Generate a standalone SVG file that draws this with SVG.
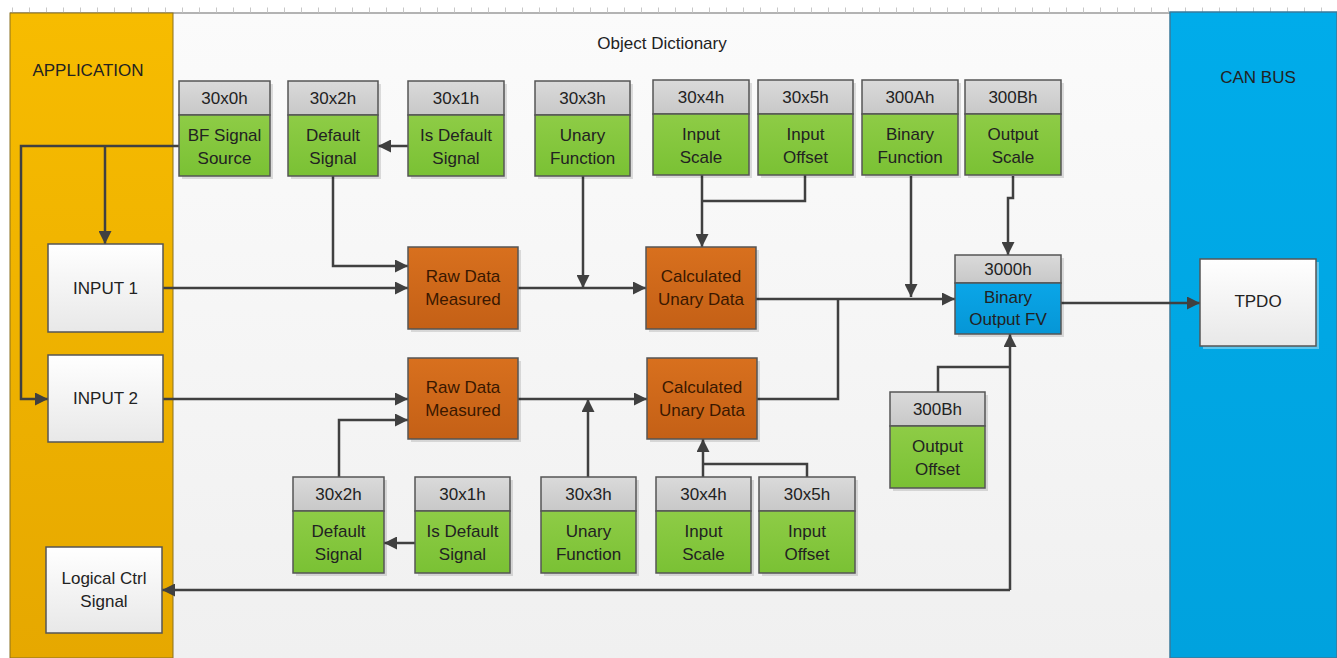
<svg xmlns="http://www.w3.org/2000/svg" width="1337" height="658" viewBox="0 0 1337 658">
<defs>
<linearGradient id="appG" x1="0" y1="0" x2="0" y2="1"><stop offset="0" stop-color="#F7BC00"/><stop offset="1" stop-color="#E6A800"/></linearGradient>
<linearGradient id="canG" x1="0" y1="0" x2="0" y2="1"><stop offset="0" stop-color="#00ACEA"/><stop offset="1" stop-color="#00A2DE"/></linearGradient>
<linearGradient id="bgG" x1="0" y1="0" x2="0" y2="1"><stop offset="0" stop-color="#FBFBFB"/><stop offset="1" stop-color="#F0F0F0"/></linearGradient>
<linearGradient id="hdG" x1="0" y1="0" x2="0" y2="1"><stop offset="0" stop-color="#DADADA"/><stop offset="1" stop-color="#C8C8C8"/></linearGradient>
<linearGradient id="grG" x1="0" y1="0" x2="0" y2="1"><stop offset="0" stop-color="#8ECC46"/><stop offset="1" stop-color="#7AC134"/></linearGradient>
<linearGradient id="orG" x1="0" y1="0" x2="0" y2="1"><stop offset="0" stop-color="#D8701E"/><stop offset="1" stop-color="#C46016"/></linearGradient>
<linearGradient id="whG" x1="0" y1="0" x2="0" y2="1"><stop offset="0" stop-color="#FFFFFF"/><stop offset="1" stop-color="#E8E8E8"/></linearGradient>
<linearGradient id="blG" x1="0" y1="0" x2="0" y2="1"><stop offset="0" stop-color="#0AA6E8"/><stop offset="1" stop-color="#0696D6"/></linearGradient>
<marker id="ar" viewBox="0 0 10 10" refX="10" refY="5" markerWidth="13" markerHeight="13" markerUnits="userSpaceOnUse" orient="auto"><path d="M0,0 L10,5 L0,10 z" fill="#404040"/></marker>
</defs>
<style>
text{font-family:"Liberation Sans",Arial,sans-serif;font-size:17px;fill:#222;text-anchor:middle}
.ot{fill:#3A1800}
.hd{fill:url(#hdG);stroke:#555;stroke-width:1.5}
.gr{fill:url(#grG);stroke:#555;stroke-width:1.5}
.or{fill:url(#orG);stroke:#555;stroke-width:1.5}
.wh{fill:url(#whG);stroke:#555;stroke-width:1.5}
.bl{fill:url(#blG);stroke:#555;stroke-width:1.5}
.sh{fill:#000;opacity:0.12}
.c{fill:none;stroke:#404040;stroke-width:2.5}
.a{marker-end:url(#ar)}
</style>
<rect x="0" y="0" width="1337" height="658" fill="#FFFFFF"/>
<!-- ruler -->
<line x1="10" y1="13" x2="1337" y2="13" stroke="#9A9A9A" stroke-width="1.5"/>
<line x1="12" y1="10" x2="1337" y2="10" stroke="#C8C8C8" stroke-width="5" stroke-dasharray="1 16"/>
<!-- panels -->
<rect x="173" y="14" width="997" height="644" fill="url(#bgG)"/>
<g id="application">
<rect x="10" y="13" width="163" height="645" fill="url(#appG)" stroke="#8A7020" stroke-width="1"/>
<text x="88" y="76">APPLICATION</text>
</g>
<g id="can-bus">
<rect x="1170" y="12" width="167" height="646" fill="url(#canG)" stroke="#3A7A9A" stroke-width="1.5"/>
<text x="1258" y="83">CAN BUS</text>
</g>
<text x="662" y="49">Object Dictionary</text>

<!-- connectors -->
<g id="connectors">
<path class="c a" d="M179,146 H21 V399 H48"/>
<path class="c a" d="M105,146 V244"/>
<path class="c a" d="M408,146 H378"/>
<path class="c a" d="M333,176 V266 H408"/>
<path class="c a" d="M163,288 H408"/>
<path class="c a" d="M163,399 H408"/>
<path class="c a" d="M339,477 V420 H408"/>
<path class="c a" d="M415,543 H384"/>
<path class="c a" d="M518,288 H646"/>
<path class="c a" d="M583,176 V288"/>
<path class="c" d="M805,175 V201 H702"/>
<path class="c a" d="M702,175 V247"/>
<path class="c a" d="M518,399 H647"/>
<path class="c a" d="M588,477 V399"/>
<path class="c" d="M807,477 V464 H703"/>
<path class="c a" d="M703,477 V439"/>
<path class="c a" d="M756,299 H955"/>
<path class="c" d="M757,399 H838 V299"/>
<path class="c a" d="M911,176 V297"/>
<path class="c a" d="M1013,176 V198 H1008 V255"/>
<path class="c a" d="M1061,303 H1200"/>
<path class="c" d="M938,392 V367 H1010"/>
<path class="c a" d="M1010,590 V334"/>
<path class="c a" d="M1010,590 H162"/>
</g>

<!-- top dictionary nodes -->
<g id="n-30x0h-top"><rect class="sh" x="182" y="84" width="91" height="95"/><rect class="hd" x="179" y="81" width="91" height="34"/><rect class="gr" x="179" y="115" width="91" height="61"/><text x="224.5" y="104">30x0h</text><text x="224.5" y="141">BF Signal</text><text x="224.5" y="164">Source</text></g>
<g id="n-30x2h-top"><rect class="sh" x="291" y="84" width="90" height="95"/><rect class="hd" x="288" y="81" width="90" height="34"/><rect class="gr" x="288" y="115" width="90" height="61"/><text x="333" y="104">30x2h</text><text x="333" y="141">Default</text><text x="333" y="164">Signal</text></g>
<g id="n-30x1h-top"><rect class="sh" x="411" y="84" width="96" height="95"/><rect class="hd" x="408" y="81" width="96" height="34"/><rect class="gr" x="408" y="115" width="96" height="61"/><text x="456" y="104">30x1h</text><text x="456" y="141">Is Default</text><text x="456" y="164">Signal</text></g>
<g id="n-30x3h-top"><rect class="sh" x="538" y="84" width="95" height="95"/><rect class="hd" x="535" y="81" width="95" height="34"/><rect class="gr" x="535" y="115" width="95" height="61"/><text x="582.5" y="104">30x3h</text><text x="582.5" y="141">Unary</text><text x="582.5" y="164">Function</text></g>
<g id="n-30x4h-top"><rect class="sh" x="656" y="83" width="96" height="95"/><rect class="hd" x="653" y="80" width="96" height="34"/><rect class="gr" x="653" y="114" width="96" height="61"/><text x="701" y="103">30x4h</text><text x="701" y="140">Input</text><text x="701" y="163">Scale</text></g>
<g id="n-30x5h-top"><rect class="sh" x="761" y="83" width="95" height="95"/><rect class="hd" x="758" y="80" width="95" height="34"/><rect class="gr" x="758" y="114" width="95" height="61"/><text x="805.5" y="103">30x5h</text><text x="805.5" y="140">Input</text><text x="805.5" y="163">Offset</text></g>
<g id="n-300Ah"><rect class="sh" x="865" y="83" width="96" height="95"/><rect class="hd" x="862" y="80" width="96" height="34"/><rect class="gr" x="862" y="114" width="96" height="61"/><text x="910" y="103">300Ah</text><text x="910" y="140">Binary</text><text x="910" y="163">Function</text></g>
<g id="n-300Bh-scale"><rect class="sh" x="968" y="83" width="96" height="95"/><rect class="hd" x="965" y="80" width="96" height="34"/><rect class="gr" x="965" y="114" width="96" height="61"/><text x="1013" y="103">300Bh</text><text x="1013" y="140">Output</text><text x="1013" y="163">Scale</text></g>

<!-- application nodes -->
<g id="n-input1"><rect class="wh" x="48" y="244" width="115" height="88"/><text x="105.5" y="294">INPUT 1</text></g>
<g id="n-input2"><rect class="wh" x="48" y="355" width="115" height="87"/><text x="105.5" y="404">INPUT 2</text></g>
<g id="n-logical"><rect class="wh" x="46" y="547" width="116" height="86"/><text x="104" y="584">Logical Ctrl</text><text x="104" y="607">Signal</text></g>

<!-- processing nodes -->
<g id="n-raw1"><rect class="sh" x="411" y="250" width="110" height="82"/><rect class="or" x="408" y="247" width="110" height="82"/><text class="ot" x="463" y="282">Raw Data</text><text class="ot" x="463" y="305">Measured</text></g>
<g id="n-raw2"><rect class="sh" x="411" y="361" width="110" height="81"/><rect class="or" x="408" y="358" width="110" height="81"/><text class="ot" x="463" y="393">Raw Data</text><text class="ot" x="463" y="416">Measured</text></g>
<g id="n-calc1"><rect class="sh" x="649" y="250" width="110" height="82"/><rect class="or" x="646" y="247" width="110" height="82"/><text class="ot" x="701" y="282">Calculated</text><text class="ot" x="701" y="305">Unary Data</text></g>
<g id="n-calc2"><rect class="sh" x="650" y="361" width="110" height="81"/><rect class="or" x="647" y="358" width="110" height="81"/><text class="ot" x="702" y="393">Calculated</text><text class="ot" x="702" y="416">Unary Data</text></g>

<g id="n-3000h"><rect class="sh" x="958" y="258" width="106" height="79"/><rect class="hd" x="955" y="255" width="106" height="28"/><rect class="bl" x="955" y="283" width="106" height="51"/><text x="1008" y="275">3000h</text><text x="1008" y="303">Binary</text><text x="1008" y="325">Output FV</text></g>
<g id="n-tpdo"><rect x="1203" y="262" width="116" height="87" fill="#5CC6EE"/><rect class="wh" x="1200" y="259" width="116" height="87"/><text x="1258" y="307">TPDO</text></g>
<g id="n-300Bh-offset"><rect class="sh" x="893" y="395" width="95" height="96"/><rect class="hd" x="890" y="392" width="95" height="34"/><rect class="gr" x="890" y="426" width="95" height="62"/><text x="937.5" y="415">300Bh</text><text x="937.5" y="452">Output</text><text x="937.5" y="475">Offset</text></g>

<!-- bottom dictionary nodes -->
<g id="n-30x2h-bot"><rect class="sh" x="296" y="480" width="91" height="96"/><rect class="hd" x="293" y="477" width="91" height="34"/><rect class="gr" x="293" y="511" width="91" height="62"/><text x="338.5" y="500">30x2h</text><text x="338.5" y="537">Default</text><text x="338.5" y="560">Signal</text></g>
<g id="n-30x1h-bot"><rect class="sh" x="418" y="480" width="95" height="96"/><rect class="hd" x="415" y="477" width="95" height="34"/><rect class="gr" x="415" y="511" width="95" height="62"/><text x="462.5" y="500">30x1h</text><text x="462.5" y="537">Is Default</text><text x="462.5" y="560">Signal</text></g>
<g id="n-30x3h-bot"><rect class="sh" x="544" y="480" width="95" height="96"/><rect class="hd" x="541" y="477" width="95" height="34"/><rect class="gr" x="541" y="511" width="95" height="62"/><text x="588.5" y="500">30x3h</text><text x="588.5" y="537">Unary</text><text x="588.5" y="560">Function</text></g>
<g id="n-30x4h-bot"><rect class="sh" x="659" y="480" width="95" height="96"/><rect class="hd" x="656" y="477" width="95" height="34"/><rect class="gr" x="656" y="511" width="95" height="62"/><text x="703.5" y="500">30x4h</text><text x="703.5" y="537">Input</text><text x="703.5" y="560">Scale</text></g>
<g id="n-30x5h-bot"><rect class="sh" x="762" y="480" width="96" height="96"/><rect class="hd" x="759" y="477" width="96" height="34"/><rect class="gr" x="759" y="511" width="96" height="62"/><text x="807" y="500">30x5h</text><text x="807" y="537">Input</text><text x="807" y="560">Offset</text></g>
</svg>
